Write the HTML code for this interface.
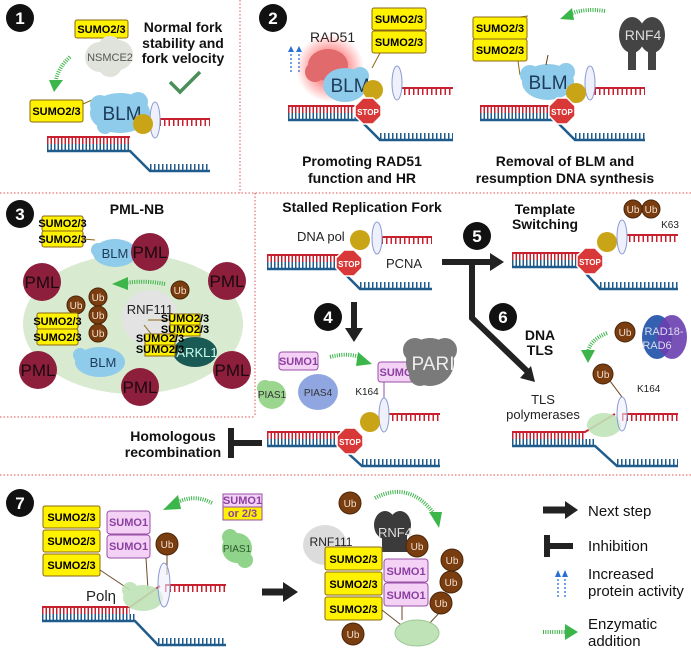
<!DOCTYPE html>
<html><head><meta charset="utf-8"><style>
html,body{margin:0;padding:0;background:#fff}
svg{display:block;font-family:"Liberation Sans",sans-serif}
.b{font-weight:bold}
.s{font-weight:bold;font-size:11px;text-anchor:middle}
.p{font-weight:bold;font-size:11px;text-anchor:middle;fill:#8b3fa0}
.u{font-size:10px;fill:#f2e0d0;text-anchor:middle}
.h{font-weight:bold;font-size:14px;text-anchor:middle;fill:#111}
.n{fill:#fff;font-weight:bold;font-size:17px;text-anchor:middle}
.l{font-size:15px;fill:#111}
</style></head><body>
<svg width="691" height="650" viewBox="0 0 691 650" xmlns="http://www.w3.org/2000/svg">
<defs>
<radialGradient id="glow"><stop offset="0.5" stop-color="#ff4040" stop-opacity="0.55"/><stop offset="1" stop-color="#ff4040" stop-opacity="0"/></radialGradient>
</defs>
<!-- dividers -->
<g stroke="#e05050" stroke-width="1" stroke-dasharray="1.5 2" fill="none">
<path d="M240 0V193"/><path d="M0 193H691"/><path d="M255 193V417"/><path d="M0 417H255"/><path d="M0 475H691"/>
</g>

<!-- ===== Forks ===== -->
<g fill="none">
<!-- generic parts: y, S, J, U, E -->
<!-- P1 y137 S47 J130 U155 E210 -->
<g>
<path d="M47 137H130" stroke="#c8202e" stroke-width="2"/><path d="M47 141H130" stroke="#c8202e" stroke-width="6" stroke-dasharray="1.5 2"/>
<path d="M47 147H130" stroke="#1f5c8c" stroke-width="6" stroke-dasharray="1.5 2"/><path d="M47 151H130L150 171H210" stroke="#1f5c8c" stroke-width="2.5"/>
<path d="M150 167H210" stroke="#1f5c8c" stroke-width="6" stroke-dasharray="1.5 2.5"/>
<path d="M155 119H210" stroke="#c8202e" stroke-width="2"/><path d="M155 123H210" stroke="#c8202e" stroke-width="6" stroke-dasharray="1.5 3"/>
</g>
<!-- P2L y106 S288 J360 U395 E453 -->
<g>
<path d="M288 106H360" stroke="#c8202e" stroke-width="2"/><path d="M288 110H360" stroke="#c8202e" stroke-width="6" stroke-dasharray="1.5 2"/>
<path d="M288 116H360" stroke="#1f5c8c" stroke-width="6" stroke-dasharray="1.5 2"/><path d="M288 120H360L380 140H453" stroke="#1f5c8c" stroke-width="2.5"/>
<path d="M380 136H453" stroke="#1f5c8c" stroke-width="6" stroke-dasharray="1.5 2.5"/>
<path d="M395 88H453" stroke="#c8202e" stroke-width="2"/><path d="M395 92H453" stroke="#c8202e" stroke-width="6" stroke-dasharray="1.5 3"/>
</g>
<!-- P2R y106 S480 J555 U590 E645 -->
<g>
<path d="M480 106H555" stroke="#c8202e" stroke-width="2"/><path d="M480 110H555" stroke="#c8202e" stroke-width="6" stroke-dasharray="1.5 2"/>
<path d="M480 116H555" stroke="#1f5c8c" stroke-width="6" stroke-dasharray="1.5 2"/><path d="M480 120H555L575 140H645" stroke="#1f5c8c" stroke-width="2.5"/>
<path d="M575 136H645" stroke="#1f5c8c" stroke-width="6" stroke-dasharray="1.5 2.5"/>
<path d="M590 88H645" stroke="#c8202e" stroke-width="2"/><path d="M590 92H645" stroke="#c8202e" stroke-width="6" stroke-dasharray="1.5 3"/>
</g>
<!-- Stalled y255 S267 J340 U377 E432 -->
<g>
<path d="M267 255H340" stroke="#c8202e" stroke-width="2"/><path d="M267 259H340" stroke="#c8202e" stroke-width="6" stroke-dasharray="1.5 2"/>
<path d="M267 265H340" stroke="#1f5c8c" stroke-width="6" stroke-dasharray="1.5 2"/><path d="M267 269H340L360 289H432" stroke="#1f5c8c" stroke-width="2.5"/>
<path d="M360 285H432" stroke="#1f5c8c" stroke-width="6" stroke-dasharray="1.5 2.5"/>
<path d="M377 237H432" stroke="#c8202e" stroke-width="2"/><path d="M377 241H432" stroke="#c8202e" stroke-width="6" stroke-dasharray="1.5 3"/>
</g>
<!-- Template y253 S512 J580 U622 E678 -->
<g>
<path d="M512 253H580" stroke="#c8202e" stroke-width="2"/><path d="M512 257H580" stroke="#c8202e" stroke-width="6" stroke-dasharray="1.5 2"/>
<path d="M512 263H580" stroke="#1f5c8c" stroke-width="6" stroke-dasharray="1.5 2"/><path d="M512 267H580L600 289H678" stroke="#1f5c8c" stroke-width="2.5"/>
<path d="M600 285H678" stroke="#1f5c8c" stroke-width="6" stroke-dasharray="1.5 2.5"/>
<path d="M620 235H678" stroke="#c8202e" stroke-width="2"/><path d="M620 239H678" stroke="#c8202e" stroke-width="6" stroke-dasharray="1.5 3"/>
</g>
<!-- P4 y432 S267 J340 U383 E440 -->
<g>
<path d="M267 432H340" stroke="#c8202e" stroke-width="2"/><path d="M267 436H340" stroke="#c8202e" stroke-width="6" stroke-dasharray="1.5 2"/>
<path d="M267 442H340" stroke="#1f5c8c" stroke-width="6" stroke-dasharray="1.5 2"/><path d="M267 446H340L362 466H440" stroke="#1f5c8c" stroke-width="2.5"/>
<path d="M362 462H440" stroke="#1f5c8c" stroke-width="6" stroke-dasharray="1.5 2.5"/>
<path d="M383 414H440" stroke="#c8202e" stroke-width="2"/><path d="M383 418H440" stroke="#c8202e" stroke-width="6" stroke-dasharray="1.5 3"/>
</g>
<!-- TLS y432 S512 J595 U622 E678 -->
<g>
<path d="M512 432H585L615 414" stroke="#c8202e" stroke-width="2"/><path d="M512 436H585" stroke="#c8202e" stroke-width="6" stroke-dasharray="1.5 2"/>
<path d="M512 442H595" stroke="#1f5c8c" stroke-width="6" stroke-dasharray="1.5 2"/><path d="M512 446H595L617 466H678" stroke="#1f5c8c" stroke-width="2.5"/>
<path d="M617 462H678" stroke="#1f5c8c" stroke-width="6" stroke-dasharray="1.5 2.5"/>
<path d="M622 414H678" stroke="#c8202e" stroke-width="2"/><path d="M622 418H678" stroke="#c8202e" stroke-width="6" stroke-dasharray="1.5 3"/>
</g>
<!-- P7 y607 S42 J135 U165 E226 -->
<g>
<path d="M42 607H130L160 586" stroke="#c8202e" stroke-width="2"/><path d="M42 611H130" stroke="#c8202e" stroke-width="6" stroke-dasharray="1.5 2"/>
<path d="M42 617H135" stroke="#1f5c8c" stroke-width="6" stroke-dasharray="1.5 2"/><path d="M42 621H135L158 645H226" stroke="#1f5c8c" stroke-width="2.5"/>
<path d="M158 641H226" stroke="#1f5c8c" stroke-width="6" stroke-dasharray="1.5 2.5"/>
<path d="M165 585H226" stroke="#c8202e" stroke-width="2"/><path d="M165 589H226" stroke="#c8202e" stroke-width="6" stroke-dasharray="1.5 3"/>
</g>
</g>

<!-- ===== Panel 1 ===== -->
<circle cx="20" cy="18" r="14" fill="#111"/><text x="20" y="24" class="n">1</text>
<rect x="75" y="20" width="53" height="18" rx="2" fill="#fff200" stroke="#8b6914"/><text x="101.5" y="33" class="s">SUMO2/3</text>
<g fill="#dfe3dc"><circle cx="100" cy="57" r="15"/><circle cx="118" cy="55" r="15"/><circle cx="110" cy="48" r="12"/><circle cx="110" cy="65" r="12"/></g>
<text x="110" y="61" font-size="11" text-anchor="middle" fill="#555">NSMCE2</text>
<path d="M70 57Q58 68 56 80" stroke="#3cb54a" stroke-width="4" stroke-dasharray="1 1.3" fill="none"/><path d="M49 80L63 80L54 92Z" fill="#3cb54a"/>
<text x="183" y="32" class="h">Normal fork</text><text x="183" y="48" class="h">stability and</text><text x="183" y="63" class="h">fork velocity</text>
<path d="M170 82L180 92L200 72" stroke="#4a8f5a" stroke-width="3.5" fill="none"/>
<rect x="30" y="100" width="53" height="22" rx="2" fill="#fff200" stroke="#8b6914"/><text x="56.5" y="115" class="s">SUMO2/3</text>
<path d="M83 104L92 100" stroke="#8b6914"/>
<g fill="#8fcbea"><ellipse cx="120" cy="113" rx="30" ry="20"/><circle cx="100" cy="105" r="10"/><circle cx="138" cy="102" r="10"/><circle cx="105" cy="126" r="8"/></g>
<text x="122" y="120" font-size="19" text-anchor="middle" fill="#1d3b5a">BLM</text>
<ellipse cx="155" cy="120" rx="5" ry="18" fill="#eef0fb" stroke="#8a9ad0"/>
<circle cx="143" cy="124" r="10" fill="#c9a416"/>

<!-- ===== Panel 2 ===== -->
<circle cx="273" cy="18" r="14" fill="#111"/><text x="273" y="24" class="n">2</text>
<text x="310" y="42" font-size="14" fill="#222">RAD51</text>
<g stroke="#2a6fd6" stroke-width="1.3" stroke-dasharray="2 2"><path d="M291 72V50"/><path d="M299 72V50"/></g>
<path d="M288 52L291 46L294 52ZM296 52L299 46L302 52Z" fill="#2a6fd6"/>
<circle cx="330" cy="68" r="34" fill="url(#glow)"/>
<g fill="#e06a6c"><ellipse cx="328" cy="65" rx="20" ry="16"/><circle cx="315" cy="72" r="10"/></g>
<g fill="#8fcbea"><ellipse cx="345" cy="85" rx="22" ry="17"/><circle cx="360" cy="76" r="9"/></g>
<text x="350" y="92" font-size="19" text-anchor="middle" fill="#1d3b5a">BLM</text>
<rect x="372" y="8" width="54" height="22" rx="2" fill="#fff200" stroke="#8b6914"/><text x="399" y="23" class="s">SUMO2/3</text>
<rect x="372" y="31" width="54" height="22" rx="2" fill="#fff200" stroke="#8b6914"/><text x="399" y="46" class="s">SUMO2/3</text>
<path d="M380 53L372 68" stroke="#8b6914"/>
<ellipse cx="397" cy="83" rx="5" ry="17" fill="#eef0fb" stroke="#8a9ad0"/>
<circle cx="373" cy="90" r="10" fill="#c9a416"/>
<polygon points="363,98 373,98 381,106 381,116 373,124 363,124 355,116 355,106" fill="#d93838" stroke="#fff" stroke-width="1.5"/><text x="368" y="115" font-size="8" font-weight="bold" fill="#fff" text-anchor="middle">STOP</text>
<text x="362" y="166" class="h">Promoting RAD51</text><text x="362" y="183" class="h">function and HR</text>

<rect x="473" y="17" width="54" height="22" rx="2" fill="#fff200" stroke="#8b6914"/><text x="500" y="32" class="s">SUMO2/3</text>
<rect x="473" y="39" width="54" height="22" rx="2" fill="#fff200" stroke="#8b6914"/><text x="500" y="54" class="s">SUMO2/3</text>
<path d="M520 17L528 16" stroke="#8b6914"/>
<path d="M518 61L520 75" stroke="#8b6914"/>
<g fill="#8fcbea"><ellipse cx="548" cy="82" rx="26" ry="18"/><circle cx="530" cy="75" r="10"/><circle cx="566" cy="72" r="9"/></g>
<text x="548" y="89" font-size="19" text-anchor="middle" fill="#1d3b5a">BLM</text>
<path d="M548 55L546 65" stroke="#6b3a10"/>
<ellipse cx="590" cy="83" rx="5" ry="17" fill="#eef0fb" stroke="#8a9ad0"/>
<circle cx="576" cy="93" r="10" fill="#c9a416"/>
<polygon points="557,98 567,98 575,106 575,116 567,124 557,124 549,116 549,106" fill="#d93838" stroke="#fff" stroke-width="1.5"/><text x="562" y="115" font-size="8" font-weight="bold" fill="#fff" text-anchor="middle">STOP</text>
<path d="M605 11Q585 8 570 14" stroke="#3cb54a" stroke-width="4" stroke-dasharray="1 1.3" fill="none"/><path d="M572 8L560 19L574 20Z" fill="#3cb54a"/>
<g fill="#444"><ellipse cx="632" cy="35" rx="13" ry="18"/><ellipse cx="652" cy="35" rx="13" ry="18"/><rect x="628" y="45" width="8" height="25"/><rect x="648" y="45" width="8" height="25"/></g>
<text x="643" y="40" font-size="14" text-anchor="middle" fill="#ddd">RNF4</text>
<text x="565" y="166" class="h">Removal of BLM and</text><text x="565" y="183" class="h">resumption DNA synthesis</text>

<!-- ===== Panel 3 ===== -->
<circle cx="20" cy="214" r="14" fill="#111"/><text x="20" y="220" class="n">3</text>
<text x="137" y="214" class="h">PML-NB</text>
<ellipse cx="133" cy="324" rx="110" ry="70" fill="#d8ead0"/>
<circle cx="150" cy="318" r="28" fill="#e3e3e3"/>
<text x="150" y="314" font-size="13" text-anchor="middle" fill="#222">RNF111</text>
<rect x="42" y="216" width="41" height="15" rx="2" fill="#fff200" stroke="#8b6914"/><text x="62.5" y="227" class="s" font-size="9">SUMO2/3</text>
<rect x="42" y="231" width="41" height="16" rx="2" fill="#fff200" stroke="#8b6914"/><text x="62.5" y="243" class="s" font-size="9">SUMO2/3</text>
<path d="M83 239L95 240" stroke="#8b6914"/>
<g fill="#8fcbea"><ellipse cx="115" cy="253" rx="22" ry="14"/><circle cx="98" cy="250" r="7"/></g>
<text x="115" y="258" font-size="13" text-anchor="middle" fill="#1d3b5a">BLM</text>
<g fill="#8d1e3c">
<circle cx="150" cy="252" r="19"/><circle cx="42" cy="282" r="19"/><circle cx="227" cy="281" r="19"/><circle cx="38" cy="370" r="19"/><circle cx="232" cy="370" r="19"/><circle cx="140" cy="387" r="19"/>
</g>
<g font-size="17" text-anchor="middle" fill="#1a0a10"><text x="150" y="258">PML</text><text x="42" y="288">PML</text><text x="227" y="287">PML</text><text x="38" y="376">PML</text><text x="232" y="376">PML</text><text x="140" y="393">PML</text></g>
<path d="M165 284Q145 280 125 283" stroke="#3cb54a" stroke-width="4" stroke-dasharray="1 1.3" fill="none"/><path d="M128 277L112 284L128 290Z" fill="#3cb54a"/>
<g fill="#7a3d10" stroke="#4a2508"><circle cx="180" cy="290" r="9"/><circle cx="98" cy="297" r="9"/><circle cx="98" cy="315" r="9"/><circle cx="98" cy="333" r="9"/><circle cx="76" cy="305" r="9"/></g>
<g class="u"><text x="180" y="294" class="u">Ub</text><text x="98" y="301" class="u">Ub</text><text x="98" y="319" class="u">Ub</text><text x="98" y="337" class="u">Ub</text><text x="76" y="309" class="u">Ub</text></g>
<rect x="37" y="313" width="41" height="16" rx="2" fill="#fff200" stroke="#8b6914"/><text x="57.5" y="325" class="s" font-size="9">SUMO2/3</text>
<rect x="37" y="329" width="41" height="16" rx="2" fill="#fff200" stroke="#8b6914"/><text x="57.5" y="341" class="s" font-size="9">SUMO2/3</text>
<g fill="#8fcbea"><ellipse cx="100" cy="362" rx="25" ry="15"/><circle cx="80" cy="355" r="7"/></g>
<text x="103" y="367" font-size="13" text-anchor="middle" fill="#1d3b5a">BLM</text>
<g fill="#1a5a55"><ellipse cx="195" cy="352" rx="22" ry="15"/></g>
<text x="197" y="357" font-size="13" text-anchor="middle" fill="#cfe">ARKL1</text>
<path d="M148 320H170M144 325L152 335" stroke="#8b6914"/>
<rect x="170" y="314" width="30" height="11" fill="#fff200" stroke="#8b6914"/><text x="185" y="322" class="s" font-size="7">SUMO2/3</text>
<rect x="170" y="325" width="30" height="11" fill="#fff200" stroke="#8b6914"/><text x="185" y="333" class="s" font-size="7">SUMO2/3</text>
<rect x="145" y="334" width="30" height="11" fill="#fff200" stroke="#8b6914"/><text x="160" y="342" class="s" font-size="7">SUMO2/3</text>
<rect x="145" y="345" width="30" height="11" fill="#fff200" stroke="#8b6914"/><text x="160" y="353" class="s" font-size="7">SUMO2/3</text>

<!-- ===== Stalled fork / 4 / 5 / 6 ===== -->
<text x="362" y="212" class="h">Stalled Replication Fork</text>
<text x="297" y="241" font-size="13" fill="#222">DNA pol</text>
<text x="404" y="268" font-size="13" text-anchor="middle" fill="#222">PCNA</text>
<ellipse cx="377" cy="238" rx="5" ry="16" fill="#eef0fb" stroke="#8a9ad0"/>
<circle cx="360" cy="240" r="10" fill="#c9a416"/>
<polygon points="344,250 354,250 362,258 362,268 354,276 344,276 336,268 336,258" fill="#d93838" stroke="#fff" stroke-width="1.5"/><text x="349" y="267" font-size="8" font-weight="bold" fill="#fff" text-anchor="middle">STOP</text>
<!-- big arrows -->
<path d="M442 262H492" stroke="#222" stroke-width="6" fill="none"/><path d="M490 253L504 262L490 271Z" fill="#222"/>
<path d="M472 262V318L528 372" stroke="#222" stroke-width="6" fill="none"/><path d="M520 378L535 382L531 366Z" fill="#222"/>
<circle cx="477" cy="236" r="14" fill="#111"/><text x="477" y="242" class="n">5</text>
<circle cx="503" cy="317" r="14" fill="#111"/><text x="503" y="323" class="n">6</text>
<text x="540" y="340" class="h">DNA</text><text x="540" y="355" class="h">TLS</text>
<text x="545" y="214" class="h">Template</text><text x="545" y="229" class="h">Switching</text>
<circle cx="607" cy="242" r="10" fill="#c9a416"/>
<ellipse cx="622" cy="237" rx="5" ry="17" fill="#eef0fb" stroke="#8a9ad0"/>
<polygon points="585,248 595,248 603,256 603,266 595,274 585,274 577,266 577,256" fill="#d93838" stroke="#fff" stroke-width="1.5"/><text x="590" y="265" font-size="8" font-weight="bold" fill="#fff" text-anchor="middle">STOP</text>
<g fill="#7a3d10" stroke="#4a2508"><circle cx="633" cy="209" r="9"/><circle cx="651" cy="209" r="9"/></g>
<text x="633" y="213" class="u">Ub</text><text x="651" y="213" class="u">Ub</text>
<text x="670" y="228" font-size="10" text-anchor="middle" fill="#222">K63</text>
<!-- panel 4 -->
<circle cx="328" cy="317" r="14" fill="#111"/><text x="328" y="323" class="n">4</text>
<path d="M354 302V330" stroke="#222" stroke-width="6"/><path d="M345 328L354 342L363 328Z" fill="#222"/>
<rect x="279" y="352" width="39" height="18" rx="3" fill="#f3d2f5" stroke="#9a4fa8"/><text x="298.5" y="365" class="p">SUMO1</text>
<g fill="#9bd68f"><circle cx="272" cy="395" r="14"/><circle cx="265" cy="388" r="8"/></g>
<text x="272" y="398" font-size="10" text-anchor="middle" fill="#333">PIAS1</text>
<g fill="#8fa6e0"><ellipse cx="318" cy="392" rx="20" ry="18"/></g>
<text x="318" y="396" font-size="10" text-anchor="middle" fill="#333">PIAS4</text>
<path d="M330 357Q348 352 362 358" stroke="#3cb54a" stroke-width="4" stroke-dasharray="1 1.3" fill="none"/><path d="M358 352L372 364L356 366Z" fill="#3cb54a"/>
<rect x="378" y="362" width="44" height="20" rx="3" fill="#f3d2f5" stroke="#9a4fa8"/><text x="396" y="376" class="p">SUMO</text>
<g fill="#7a7a7a"><circle cx="430" cy="362" r="24"/><circle cx="415" cy="350" r="12"/><circle cx="445" cy="350" r="12"/><circle cx="420" cy="375" r="11"/></g>
<text x="433" y="370" font-size="19" text-anchor="middle" fill="#eee">PARI</text>
<text x="367" y="395" font-size="10" text-anchor="middle" fill="#222">K164</text>
<path d="M384 382V400" stroke="#9a4fa8"/>
<ellipse cx="384" cy="415" rx="5" ry="17" fill="#eef0fb" stroke="#8a9ad0"/>
<circle cx="370" cy="422" r="10" fill="#c9a416"/>
<polygon points="345,428 355,428 363,436 363,446 355,454 345,454 337,446 337,436" fill="#d93838" stroke="#fff" stroke-width="1.5"/><text x="350" y="445" font-size="8" font-weight="bold" fill="#fff" text-anchor="middle">STOP</text>
<text x="173" y="441" class="h">Homologous</text><text x="173" y="457" class="h">recombination</text>
<path d="M231 428V458" stroke="#222" stroke-width="6"/><path d="M231 443H262" stroke="#222" stroke-width="6"/>
<!-- TLS -->
<text x="543" y="404" font-size="13" text-anchor="middle" fill="#222">TLS</text><text x="543" y="419" font-size="13" text-anchor="middle" fill="#222">polymerases</text>
<path d="M607 333Q590 340 588 352" stroke="#3cb54a" stroke-width="4" stroke-dasharray="1 1.3" fill="none"/><path d="M581 350L595 350L588 363Z" fill="#3cb54a"/>
<g fill="#7a3d10" stroke="#4a2508"><circle cx="625" cy="332" r="10"/><circle cx="603" cy="374" r="10"/></g>
<text x="625" y="336" class="u">Ub</text><text x="603" y="378" class="u">Ub</text>
<path d="M610 381L622 397" stroke="#6b3a10"/>
<text x="637" y="392" font-size="10" fill="#222">K164</text>
<ellipse cx="657" cy="337" rx="15" ry="22" fill="#3460b0"/><ellipse cx="672" cy="337" rx="15" ry="22" fill="#6a3fb0" opacity="0.9"/>
<text x="664" y="335" font-size="11" text-anchor="middle" fill="#dde">RAD18-</text><text x="657" y="349" font-size="11" text-anchor="middle" fill="#dde">RAD6</text>
<g fill="#bfe3b7" opacity="0.9"><ellipse cx="604" cy="425" rx="17" ry="12"/></g>
<ellipse cx="622" cy="414" rx="5" ry="17" fill="#eef0fb" fill-opacity="0.6" stroke="#8a9ad0"/>

<!-- ===== Panel 7 ===== -->
<circle cx="20" cy="503" r="14" fill="#111"/><text x="20" y="509" class="n">7</text>
<rect x="43" y="506" width="57" height="22" rx="2" fill="#fff200" stroke="#8b6914"/><text x="71.5" y="521" class="s">SUMO2/3</text>
<rect x="43" y="530" width="57" height="22" rx="2" fill="#fff200" stroke="#8b6914"/><text x="71.5" y="545" class="s">SUMO2/3</text>
<rect x="43" y="554" width="57" height="22" rx="2" fill="#fff200" stroke="#8b6914"/><text x="71.5" y="569" class="s">SUMO2/3</text>
<rect x="107" y="511" width="43" height="23" rx="3" fill="#f3d2f5" stroke="#9a4fa8"/><text x="128.5" y="526" class="p">SUMO1</text>
<rect x="107" y="535" width="43" height="23" rx="3" fill="#f3d2f5" stroke="#9a4fa8"/><text x="128.5" y="550" class="p">SUMO1</text>
<path d="M100 570L130 590M146 558L148 590M167 555V575" stroke="#6b4a2a"/>
<circle cx="167" cy="544" r="11" fill="#7a3d10" stroke="#4a2508"/><text x="167" y="548" class="u">Ub</text>
<path d="M212 503Q195 494 178 502" stroke="#3cb54a" stroke-width="4" stroke-dasharray="1 1.3" fill="none"/><path d="M178 495L163 510L181 509Z" fill="#3cb54a"/>
<rect x="223" y="494" width="39" height="13" fill="#f3d2f5" stroke="#9a4fa8"/><rect x="223" y="507" width="39" height="13" fill="#fff200" stroke="#9a4fa8"/>
<text x="242.5" y="504" class="p" font-size="10">SUMO1</text><text x="242.5" y="517" class="p" font-size="10">or 2/3</text>
<g fill="#8fd48a"><circle cx="237" cy="548" r="15"/><circle cx="230" cy="537" r="8"/><circle cx="245" cy="560" r="8"/></g>
<text x="237" y="552" font-size="10" text-anchor="middle" fill="#2c5a2a">PIAS1</text>
<text x="86" y="601" font-size="15" fill="#222">Polη</text>
<g fill="#bfe3b7" opacity="0.9"><ellipse cx="143" cy="598" rx="20" ry="13"/><circle cx="130" cy="590" r="8"/></g>
<ellipse cx="164" cy="585" rx="6" ry="22" fill="#eef0fb" fill-opacity="0.6" stroke="#8a9ad0"/>
<path d="M262 592H285" stroke="#222" stroke-width="7"/><path d="M283 582L298 592L283 602Z" fill="#222"/>
<!-- right complex -->
<path d="M375 498Q410 480 435 515" stroke="#3cb54a" stroke-width="4" stroke-dasharray="1 1.3" fill="none"/><path d="M429 512L442 512L439 528Z" fill="#3cb54a"/>
<ellipse cx="325" cy="545" rx="22" ry="20" fill="#dcdcdc"/>
<text x="331" y="546" font-size="12" text-anchor="middle" fill="#222">RNF111</text>
<g fill="#3b3b3b"><ellipse cx="385" cy="525" rx="11" ry="14"/><ellipse cx="400" cy="525" rx="11" ry="14"/><rect x="382" y="532" width="25" height="20"/></g>
<text x="395" y="537" font-size="13" text-anchor="middle" fill="#ddd">RNF4</text>
<rect x="325" y="547" width="57" height="23" rx="2" fill="#fff200" stroke="#8b6914"/><text x="353.5" y="563" class="s" font-size="12">SUMO2/3</text>
<rect x="325" y="572" width="57" height="23" rx="2" fill="#fff200" stroke="#8b6914"/><text x="353.5" y="588" class="s" font-size="12">SUMO2/3</text>
<rect x="325" y="597" width="57" height="23" rx="2" fill="#fff200" stroke="#8b6914"/><text x="353.5" y="613" class="s" font-size="12">SUMO2/3</text>
<rect x="384" y="559" width="44" height="23" rx="3" fill="#f3d2f5" stroke="#9a4fa8"/><text x="406" y="575" class="p" font-size="12">SUMO1</text>
<rect x="384" y="583" width="44" height="23" rx="3" fill="#f3d2f5" stroke="#9a4fa8"/><text x="406" y="599" class="p" font-size="12">SUMO1</text>
<path d="M382 610L405 628M402 606V620M440 612L428 625" stroke="#6b4a2a"/>
<g fill="#bfe3b7" stroke="#9cc896"><ellipse cx="417" cy="633" rx="22" ry="13"/></g>
<g fill="#7a3d10" stroke="#4a2508"><circle cx="350" cy="503" r="11"/><circle cx="417" cy="546" r="11"/><circle cx="452" cy="560" r="11"/><circle cx="451" cy="582" r="11"/><circle cx="441" cy="603" r="11"/><circle cx="353" cy="634" r="11"/></g>
<g><text x="350" y="507" class="u" font-size="12">Ub</text><text x="417" y="550" class="u" font-size="12">Ub</text><text x="452" y="564" class="u" font-size="12">Ub</text><text x="451" y="586" class="u" font-size="12">Ub</text><text x="441" y="607" class="u" font-size="12">Ub</text><text x="353" y="638" class="u" font-size="12">Ub</text></g>
<!-- legend -->
<path d="M543 510H567" stroke="#222" stroke-width="7"/><path d="M565 501L578 510L565 519Z" fill="#222"/>
<text x="588" y="516" class="l">Next step</text>
<path d="M547 535V557" stroke="#222" stroke-width="6"/><path d="M547 546H573" stroke="#222" stroke-width="6"/>
<text x="588" y="551" class="l">Inhibition</text>
<g stroke="#2a6fd6" stroke-width="1.3" stroke-dasharray="2 2"><path d="M558 597V575"/><path d="M565 597V575"/></g>
<path d="M555 577L558 570L561 577ZM562 577L565 570L568 577Z" fill="#2a6fd6"/>
<text x="588" y="579" class="l">Increased</text><text x="588" y="596" class="l">protein activity</text>
<path d="M543 632H566" stroke="#3cb54a" stroke-width="4" stroke-dasharray="1 1.3"/><path d="M565 624L578 632L565 640Z" fill="#3cb54a"/>
<text x="588" y="629" class="l">Enzymatic</text><text x="588" y="646" class="l">addition</text>
</svg>
</body></html>
